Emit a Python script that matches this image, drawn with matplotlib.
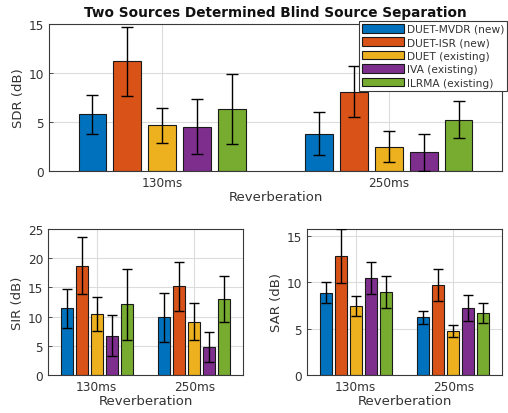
import matplotlib
matplotlib.use("Agg")
import matplotlib.pyplot as plt
import numpy as np

groups = ['130ms', '250ms']
methods = ['DUET-MVDR (new)', 'DUET-ISR (new)', 'DUET (existing)',
           'IVA (existing)', 'ILRMA (existing)']
colors = ['#0072BD', '#D95319', '#EDB120', '#7E2F8E', '#77AC30']

sdr_130_mean = [5.8, 11.2, 4.65, 4.5, 6.3]
sdr_130_std = [2.0, 3.5, 1.8, 2.8, 3.55]
sdr_250_mean = [3.8, 8.1, 2.5, 1.9, 5.25]
sdr_250_std = [2.2, 2.6, 1.6, 1.9, 1.9]

sir_130_mean = [11.4, 18.7, 10.45, 6.7, 12.1]
sir_130_std = [3.4, 4.85, 2.95, 3.5, 6.1]
sir_250_mean = [9.9, 15.2, 9.15, 4.8, 13.0]
sir_250_std = [4.2, 4.2, 3.15, 2.5, 4.0]

sar_130_mean = [8.85, 12.8, 7.4, 10.4, 8.9]
sar_130_std = [1.1, 2.9, 1.07, 1.7, 1.7]
sar_250_mean = [6.2, 9.65, 4.75, 7.2, 6.62]
sar_250_std = [0.73, 1.7, 0.66, 1.38, 1.08]

TXT = '#333333'
plt.rcParams['font.family'] = ['DejaVu Sans']

W, H = 508, 414
fig = plt.figure(figsize=(W / 100, H / 100), dpi=100)


def px_axes(x0, y0, x1, y1):
    return fig.add_axes([x0 / W, 1 - y1 / H, (x1 - x0) / W, (y1 - y0) / H])


def draw(ax, means, stds, ylim, yticks, ylabel, capsize):
    n = len(methods)
    spacing = 0.154
    width = 0.123
    x = np.arange(1, len(groups) + 1)
    for i in range(n):
        m = [means[g][i] for g in range(len(groups))]
        s = [stds[g][i] for g in range(len(groups))]
        xi = x + (i - (n - 1) / 2) * spacing
        ax.bar(xi, m, width=width, color=colors[i], edgecolor='#1a1a1a',
               linewidth=0.8, label=methods[i], zorder=2)
        ax.errorbar(xi, m, yerr=s, fmt='none', ecolor='black',
                    elinewidth=1.0, capsize=capsize, capthick=1.0, zorder=3)
    ax.set_xlim(0.5, len(groups) + 0.5)
    ax.set_ylim(*ylim)
    ax.set_yticks(yticks)
    ax.set_xticks(x)
    ax.set_xticklabels(groups)
    ax.grid(True, color='#dcdcdc', linewidth=0.8, zorder=0)
    ax.set_axisbelow(True)
    ax.tick_params(axis='both', colors=TXT, labelsize=8.7, direction='in',
                   length=3, width=0.6)
    for sp in ax.spines.values():
        sp.set_color('#3a3a3a')
        sp.set_linewidth(0.8)
    ax.set_ylabel(ylabel, color=TXT, fontsize=9.5, labelpad=3)
    ax.set_xlabel('Reverberation', color=TXT, fontsize=9.5, labelpad=1)


ax1 = px_axes(49, 25, 502, 172)
draw(ax1, [sdr_130_mean, sdr_250_mean], [sdr_130_std, sdr_250_std],
     (0, 15), [0, 5, 10, 15], 'SDR (dB)', 4.5)
ax1.set_title('Two Sources Determined Blind Source Separation',
              fontsize=9.8, fontweight='bold', color='#111111', pad=6)
leg = ax1.legend(loc='upper left', bbox_to_anchor=(359 / W, 1 - 22 / H),
                 bbox_transform=fig.transFigure, fontsize=7.7,
                 frameon=True, fancybox=False, framealpha=1,
                 edgecolor='#3a3a3a', handlelength=3.9, handleheight=0.85,
                 handletextpad=0.3, labelspacing=0.32, borderpad=0.28,
                 borderaxespad=0)
leg.get_frame().set_linewidth(0.8)
for t in leg.get_texts():
    t.set_color(TXT)

ax2 = px_axes(48, 230, 243, 376)
draw(ax2, [sir_130_mean, sir_250_mean], [sir_130_std, sir_250_std],
     (0, 25), [0, 5, 10, 15, 20, 25], 'SIR (dB)', 3.5)

ax3 = px_axes(307, 230, 502, 376)
draw(ax3, [sar_130_mean, sar_250_mean], [sar_130_std, sar_250_std],
     (0, 15.7), [0, 5, 10, 15], 'SAR (dB)', 3.5)

fig.savefig('out.png', dpi=100)
